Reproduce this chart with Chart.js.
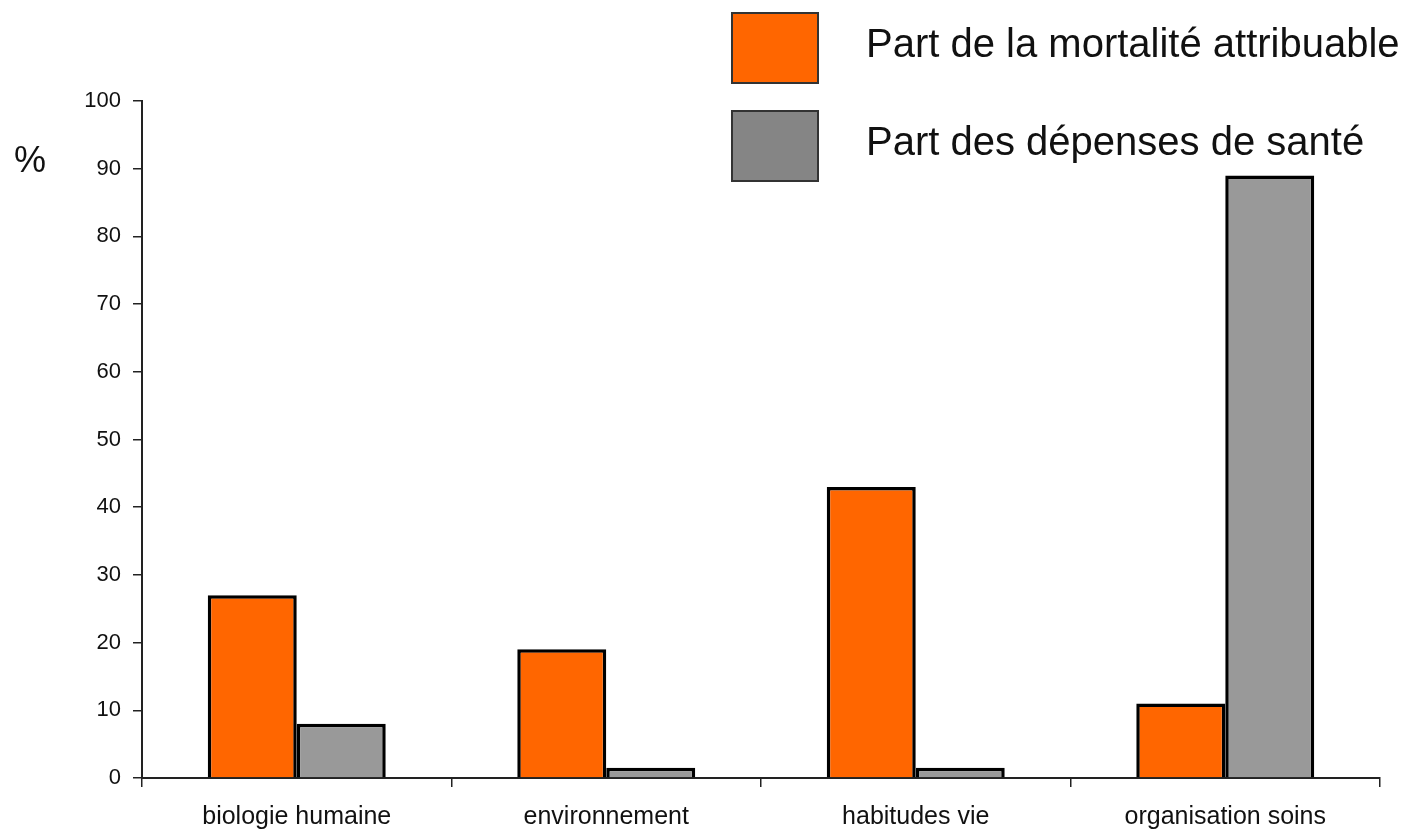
<!DOCTYPE html>
<html>
<head>
<meta charset="utf-8">
<script src="https://cdn.jsdelivr.net/npm/chart.js@4"></script>
<style>
  html, body { margin: 0; padding: 0; background: #fff; }
  #wrap { position: relative; width: 1413px; height: 832px; font-family: "Liberation Sans", Arial, sans-serif; }
  canvas { position: absolute; left: 0; top: 0; }
  .lg-box { position: absolute; width: 84px; height: 68px; border: 2px solid #333; }
  .lg-text { position: absolute; font-size: 40px; line-height: 1; color: #111; white-space: nowrap; }
  #pct { position: absolute; left: 14px; top: 142px; font-size: 36px; line-height: 1; color: #111; }
</style>
</head>
<body>
<div id="wrap">
  <canvas id="chart" width="1413" height="832"></canvas>
  <div class="lg-box" style="left:731px; top:12px; background:#FF6600;"></div>
  <div class="lg-text" id="lg1" style="left:866px; top:23px;"></div>
  <div class="lg-box" style="left:731px; top:110px; background:#858585;"></div>
  <div class="lg-text" id="lg2" style="left:866px; top:121px;"></div>
  <div id="pct">%</div>
</div>
<script>
const categories = ['biologie humaine', 'environnement', 'habitudes vie', 'organisation soins'];
const seriesNames = ['Part de la mortalité attribuable', 'Part des dépenses de santé'];
const mortalite = [27, 19, 43, 11];
const depenses = [8, 1.5, 1.5, 89];
const yTicks = [0, 10, 20, 30, 40, 50, 60, 70, 80, 90, 100];

document.getElementById('lg1').textContent = seriesNames[0];
document.getElementById('lg2').textContent = seriesNames[1];

const ctx = document.getElementById('chart').getContext('2d');
new Chart(ctx, {
  type: 'bar',
  data: {
    labels: categories,
    datasets: [
      {
        label: seriesNames[0],
        data: mortalite,
        backgroundColor: '#FF6600',
        borderColor: '#000',
        borderWidth: 3.5
      },
      {
        label: seriesNames[1],
        data: depenses,
        backgroundColor: '#999999',
        borderColor: '#000',
        borderWidth: 3.5
      }
    ]
  },
  options: {
    responsive: false,
    animation: false,
    layout: { padding: { top: 101, right: 33, left: 0, bottom: 0 } },
    plugins: { legend: { display: false }, tooltip: { enabled: false } },
    datasets: { bar: { barPercentage: 1, categoryPercentage: 0.575 } },
    scales: {
      x: {
        grid: { display: true, drawOnChartArea: false, drawTicks: true, tickLength: 9, color: '#222', lineWidth: 1.5, offset: true },
        border: { display: true, color: '#222', width: 2 },
        ticks: { color: '#111', font: { family: 'Liberation Sans', size: 25 }, padding: 15, maxRotation: 0 },
        afterFit: (scale) => { scale.height = 54; }
      },
      y: {
        min: 0,
        max: 100,
        afterBuildTicks: (scale) => { scale.ticks = yTicks.map(v => ({ value: v })); },
        grid: { display: true, drawOnChartArea: false, drawTicks: true, tickLength: 9, color: '#222', lineWidth: 1.5 },
        border: { display: true, color: '#222', width: 2 },
        ticks: { color: '#111', font: { family: 'Liberation Sans', size: 22 }, padding: 12 },
        afterFit: (scale) => { scale.width = 142; }
      }
    }
  }
});
</script>
</body>
</html>
